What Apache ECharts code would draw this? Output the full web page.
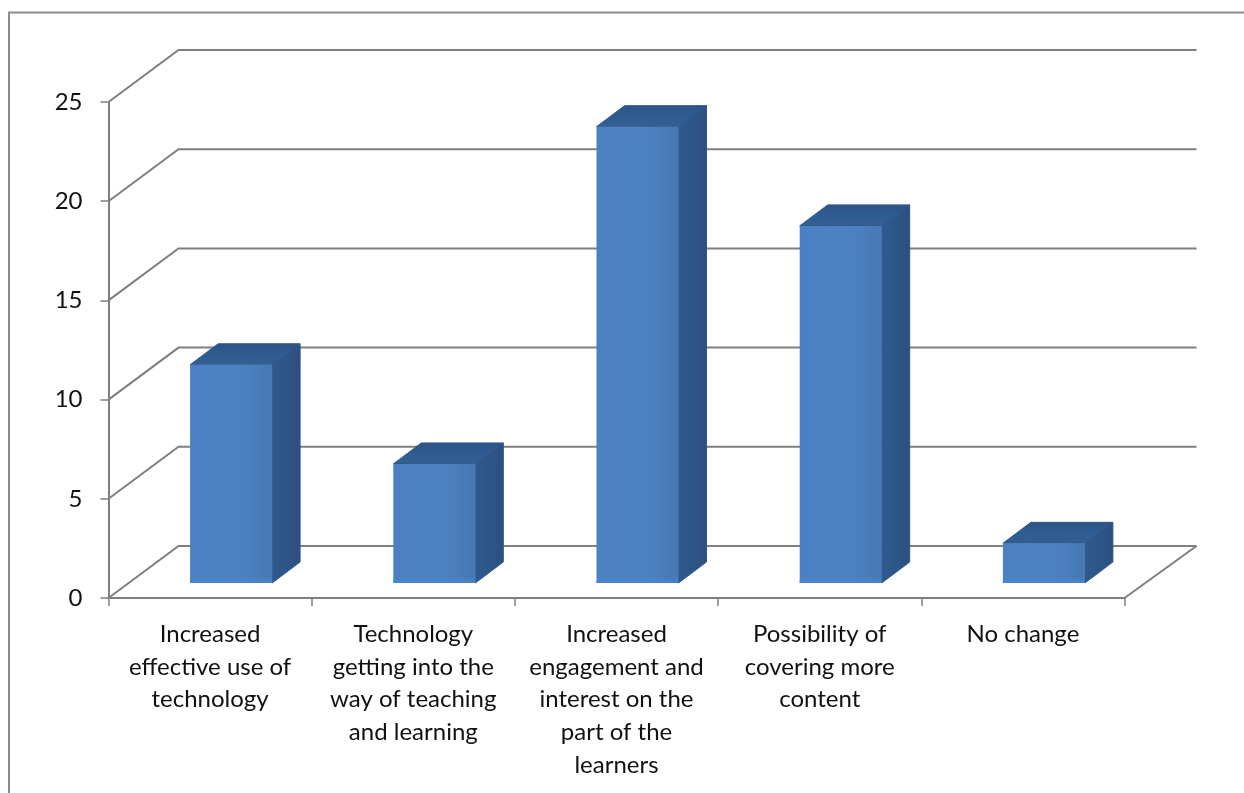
<!DOCTYPE html>
<html><head><meta charset="utf-8">
<style>html,body{margin:0;padding:0;background:#fff}#c{width:1244px;height:793px}</style>
<script src="https://cdn.jsdelivr.net/npm/echarts@6/dist/echarts.min.js"></script>
</head><body><div id="c"></div>
<script>
const categories = [
  "Increased\neffective use of\ntechnology",
  "Technology\ngetting into the\nway of teaching\nand learning",
  "Increased\nengagement and\ninterest on the\npart of the\nlearners",
  "Possibility of\ncovering more\ncontent",
  "No change"
];
const values = [11, 6, 23, 18, 2];
const yTicks = [0, 5, 10, 15, 20, 25];

const GRAY = '#7f7f7f';
const wallDx = 70, wallDy = 52;
const barW = 82, depthX = 28, depthY = 21, barDx = 21, barDy = 15;

const chart = echarts.init(document.getElementById('c'));
function lg(x2, y2, stops){
  return new echarts.graphic.LinearGradient(0,0,x2,y2,stops.map((c,i)=>({offset:i/(stops.length-1),color:c})));
}
chart.setOption({
  animation:false,
  backgroundColor:'#fff',
  textStyle:{fontFamily:'Lato, Carlito, sans-serif'},
  graphic:[{type:'polyline',shape:{points:[[9,793],[9,12.5],[1244,12.5]]},
    style:{fill:'none',stroke:'#8c8c8c',lineWidth:2},silent:true,z:0}],
  grid:{left:108.5,top:102,width:1016,height:496,containLabel:false},
  xAxis:{type:'category',data:categories,
    axisLine:{lineStyle:{color:GRAY,width:2}},
    axisTick:{show:true,alignWithLabel:false,length:8,lineStyle:{color:GRAY,width:1.5}},
    axisLabel:{color:'#111',fontSize:24,lineHeight:32.7,margin:20,interval:0,verticalAlign:'top'},
    splitLine:{show:false}},
  yAxis:{type:'value',min:0,max:25,interval:5,
    axisLine:{show:true,lineStyle:{color:GRAY,width:2}},
    axisTick:{show:true,length:8,lineStyle:{color:GRAY,width:1.5}},
    axisLabel:{color:'#111',fontSize:24,margin:26},
    splitLine:{show:false}},
  series:[
    {type:'custom',silent:true,z:1,data:yTicks.map(v=>[0,v]),encode:{x:0,y:1},
     renderItem(params,api){
       const cs=params.coordSys, y=api.coord([0,api.value(1)])[1];
       const x0=cs.x, x1=cs.x+cs.width;
       const children=[{type:'polyline',shape:{points:[[x0,y],[x0+wallDx,y-wallDy],[x1+wallDx+2,y-wallDy]]},
         style:{fill:'none',stroke:GRAY,lineWidth:2}}];
       if(api.value(1)===0) children.push({type:'line',shape:{x1:x1,y1:y,x2:x1+wallDx+2,y2:y-wallDy},style:{stroke:GRAY,lineWidth:2}});
       return {type:'group',children};
     }},
    {type:'custom',silent:true,z:2,data:values.map((v,i)=>[i,v]),encode:{x:0,y:1},
     renderItem(params,api){
       const top=api.coord([api.value(0),api.value(1)]);
       const base=api.coord([api.value(0),0]);
       const l=top[0]+barDx-barW/2, r=l+barW, t=top[1]-barDy, b=base[1]-barDy;
       return {type:'group',children:[
         {type:'polygon',shape:{points:[[r,t],[r+depthX,t-depthY],[r+depthX,b-depthY],[r,b]]},
          style:{fill:lg(1,0,['#2f5a8f','#2d5687','#2e4f7f']),stroke:'#2e5687',lineWidth:1}},
         {type:'polygon',shape:{points:[[l,t],[l+depthX,t-depthY],[r+depthX,t-depthY],[r,t]]},
          style:{fill:lg(0,1,['#2f5285','#2e5c92','#345f93']),stroke:'#2f5688',lineWidth:1}},
         {type:'rect',shape:{x:l,y:t,width:barW,height:b-t},
          style:{fill:lg(1,0,['#4a80c4','#4f82c3','#4c80c0','#4778b5'])}},
         {type:'rect',shape:{x:l,y:b-6,width:barW,height:6},
          style:{fill:lg(0,1,['rgba(72,134,204,0)','rgba(72,134,204,0.9)'])}}
       ]};
     }}
  ]
});
</script></body></html>
